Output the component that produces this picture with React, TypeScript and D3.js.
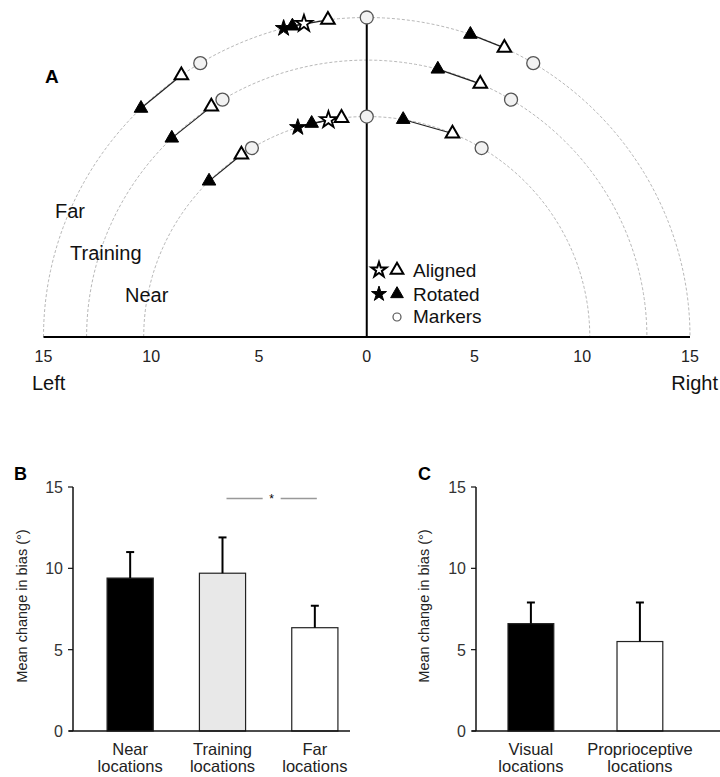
import { useEffect, useRef } from 'react';
import * as d3 from 'd3';

// ---- Panel A: pointing positions on three arcs (cm, angles in deg, left negative)
const arcNames = ['Near', 'Training', 'Far'];
const arcRadii = [10.35, 13, 15];
const axisTicks = [-15, -10, -5, 0, 5, 10, 15];

const targetArc = ['Near', 'Near', 'Near', 'Training', 'Training', 'Far', 'Far', 'Far'];
const markerAngle = [-31, 0, 31, -31, 31, -31, 0, 31];
const alignedTri = [-34.2, -6.5, 22.6, -33.7, 23.9, -35.0, -6.9, 25.2];
const rotatedTri = [-45.0, -14.3, 9.4, -44.1, 14.7, -44.3, -13.3, 18.7];

// stars only for the straight-ahead targets
const starArc = ['Near', 'Far'];
const alignedStar = [-9.9, -11.2];
const rotatedStar = [-18.0, -14.9];

// ---- Panel B
const bLabels = [['Near', 'locations'], ['Training', 'locations'], ['Far', 'locations']];
const bMeans = [9.4, 9.7, 6.35];
const bErrors = [1.6, 2.2, 1.35];
const bFills = ['#000000', '#e8e8e8', '#ffffff'];

// ---- Panel C
const cLabels = [['Visual', 'locations'], ['Proprioceptive', 'locations']];
const cMeans = [6.6, 5.5];
const cErrors = [1.3, 2.4];
const cFills = ['#000000', '#ffffff'];

const yTicks = [0, 5, 10, 15];
const FONT = '"Liberation Sans", Arial, sans-serif';

type Sel = d3.Selection<SVGGElement, unknown, null, undefined>;

function barPanel(
  g: Sel,
  opts: {
    labels: string[][];
    means: number[];
    errors: number[];
    fills: string[];
    letter: string;
    axisX: number;
    axisEnd: number;
    bandRange: [number, number];
    paddingInner: number;
    paddingOuter: number;
    letterX: number;
    titleX: number;
  }
) {
  const y = d3.scaleLinear().domain([0, 15]).range([731, 487]);
  const x = d3.scaleBand<number>()
    .domain(d3.range(opts.means.length))
    .range(opts.bandRange)
    .paddingInner(opts.paddingInner)
    .paddingOuter(opts.paddingOuter);

  // bars
  g.selectAll('rect.bar')
    .data(opts.means)
    .enter().append('rect')
    .attr('x', (_, i) => x(i)!)
    .attr('width', x.bandwidth())
    .attr('y', d => y(d))
    .attr('height', d => y(0) - y(d))
    .attr('fill', (_, i) => opts.fills[i])
    .attr('stroke', '#222')
    .attr('stroke-width', 1.2);

  // error bars (upper only)
  opts.means.forEach((m, i) => {
    const cx = x(i)! + x.bandwidth() / 2;
    g.append('line')
      .attr('x1', cx).attr('x2', cx)
      .attr('y1', y(m)).attr('y2', y(m + opts.errors[i]))
      .attr('stroke', '#000').attr('stroke-width', 2);
    g.append('line')
      .attr('x1', cx - 4).attr('x2', cx + 4)
      .attr('y1', y(m + opts.errors[i])).attr('y2', y(m + opts.errors[i]))
      .attr('stroke', '#000').attr('stroke-width', 2);
  });

  // axes
  g.append('line')
    .attr('x1', opts.axisX).attr('x2', opts.axisX)
    .attr('y1', y(15)).attr('y2', y(0))
    .attr('stroke', '#111').attr('stroke-width', 1.5);
  g.append('line')
    .attr('x1', opts.axisX - 4).attr('x2', opts.axisEnd)
    .attr('y1', y(0)).attr('y2', y(0))
    .attr('stroke', '#111').attr('stroke-width', 1.5);

  yTicks.forEach(t => {
    g.append('line')
      .attr('x1', opts.axisX - 5).attr('x2', opts.axisX)
      .attr('y1', y(t)).attr('y2', y(t))
      .attr('stroke', '#111').attr('stroke-width', 1.2);
    g.append('text')
      .attr('x', opts.axisX - 10).attr('y', y(t) + 6)
      .attr('text-anchor', 'end')
      .attr('font-size', 16)
      .attr('fill', '#333')
      .text(t);
  });

  // category labels
  opts.labels.forEach((lines, i) => {
    const cx = x(i)! + x.bandwidth() / 2;
    lines.forEach((ln, j) => {
      g.append('text')
        .attr('x', cx).attr('y', 755 + j * 17)
        .attr('text-anchor', 'middle')
        .attr('font-size', 16.5)
        .attr('fill', '#222')
        .text(ln);
    });
  });

  g.append('text')
    .attr('transform', `translate(${opts.titleX},606) rotate(-90)`)
    .attr('text-anchor', 'middle')
    .attr('font-size', 14.5)
    .attr('fill', '#222')
    .text('Mean change in bias (°)');

  g.append('text')
    .attr('x', opts.letterX).attr('y', 480)
    .attr('font-size', 18)
    .attr('font-weight', 'bold')
    .text(opts.letter);

  return { x, y };
}

export default function App() {
  const svgRef = useRef<SVGSVGElement>(null);

  useEffect(() => {
    if (!svgRef.current) return;
    const svg = d3.select(svgRef.current);
    svg.selectAll('*').remove();
    const root = svg.append('g').attr('font-family', FONT);

    // ---------------- Panel A
    const x = d3.scaleLinear().domain([-15, 15]).range([43.5, 690]);
    const y = d3.scaleLinear().domain([0, 15]).range([337, 337 - 15 * 21.3]);
    const radius = (name: string) => arcRadii[arcNames.indexOf(name)];
    const pos = (r: number, deg: number): [number, number] => {
      const a = (deg * Math.PI) / 180;
      return [x(r * Math.sin(a)), y(r * Math.cos(a))];
    };
    const a = root.append('g');

    const arcLine = d3.line<number>();
    arcRadii.forEach(r => {
      const pts = d3.range(-90, 90.5, 1).map(d => pos(r, d));
      a.append('path')
        .attr('d', arcLine(pts as any))
        .attr('fill', 'none')
        .attr('stroke', '#b8b8b8')
        .attr('stroke-width', 1)
        .attr('stroke-dasharray', '3,2');
    });

    // baseline + midline
    a.append('line')
      .attr('x1', x(-15)).attr('x2', x(15))
      .attr('y1', y(0)).attr('y2', y(0))
      .attr('stroke', '#000').attr('stroke-width', 2.2);
    a.append('line')
      .attr('x1', x(0)).attr('x2', x(0))
      .attr('y1', y(0)).attr('y2', y(15))
      .attr('stroke', '#000').attr('stroke-width', 2);

    axisTicks.forEach(t => {
      a.append('text')
        .attr('x', x(t)).attr('y', 362)
        .attr('text-anchor', 'middle')
        .attr('font-size', 16)
        .attr('fill', '#222')
        .text(Math.abs(t));
    });
    a.append('text').attr('x', 32).attr('y', 390).attr('font-size', 20).attr('fill', '#111').text('Left');
    a.append('text').attr('x', 718).attr('y', 390).attr('text-anchor', 'end').attr('font-size', 20).attr('fill', '#111').text('Right');

    a.append('text').attr('x', 45).attr('y', 83).attr('font-size', 19).attr('font-weight', 'bold').text('A');
    // arc names
    const arcLabelPos = [[125, 302], [70, 260], [55, 218]];
    arcNames.forEach((n, i) => {
      a.append('text')
        .attr('x', arcLabelPos[i][0]).attr('y', arcLabelPos[i][1])
        .attr('font-size', 20).attr('fill', '#111')
        .text(n);
    });

    const tri = d3.symbol().type(d3.symbolTriangle).size(80);
    const star = d3.symbol().type(d3.symbolStar).size(85);

    // connecting lines
    targetArc.forEach((arc, i) => {
      const r = radius(arc);
      const p0 = pos(r, rotatedTri[i]);
      const p1 = pos(r, alignedTri[i]);
      a.append('line')
        .attr('x1', p0[0]).attr('y1', p0[1]).attr('x2', p1[0]).attr('y2', p1[1])
        .attr('stroke', '#222').attr('stroke-width', 1.2);
    });
    starArc.forEach((arc, i) => {
      const r = radius(arc);
      const p0 = pos(r, rotatedStar[i]);
      const p1 = pos(r, alignedStar[i]);
      a.append('line')
        .attr('x1', p0[0]).attr('y1', p0[1]).attr('x2', p1[0]).attr('y2', p1[1])
        .attr('stroke', '#222').attr('stroke-width', 1.2);
    });

    // markers
    targetArc.forEach((arc, i) => {
      const p = pos(radius(arc), markerAngle[i]);
      a.append('circle')
        .attr('cx', p[0]).attr('cy', p[1]).attr('r', 6.5)
        .attr('fill', '#f2f2f2').attr('stroke', '#555').attr('stroke-width', 1.3);
    });

    // stars
    starArc.forEach((arc, i) => {
      const r = radius(arc);
      const pr = pos(r, rotatedStar[i]);
      a.append('path').attr('d', star()!)
        .attr('transform', `translate(${pr[0]},${pr[1]})`)
        .attr('fill', '#000').attr('stroke', '#000').attr('stroke-width', 1);
      const pa = pos(r, alignedStar[i]);
      a.append('path').attr('d', star()!)
        .attr('transform', `translate(${pa[0]},${pa[1]})`)
        .attr('fill', '#fff').attr('stroke', '#000').attr('stroke-width', 1.8);
    });

    // triangles
    targetArc.forEach((arc, i) => {
      const r = radius(arc);
      const pr = pos(r, rotatedTri[i]);
      a.append('path').attr('d', tri()!)
        .attr('transform', `translate(${pr[0]},${pr[1]})`)
        .attr('fill', '#000').attr('stroke', '#000').attr('stroke-width', 1);
      const pa = pos(r, alignedTri[i]);
      a.append('path').attr('d', tri()!)
        .attr('transform', `translate(${pa[0]},${pa[1]})`)
        .attr('fill', '#fff').attr('stroke', '#000').attr('stroke-width', 2);
    });

    // legend
    const legendStar = d3.symbol().type(d3.symbolStar).size(70);
    const legendTri = d3.symbol().type(d3.symbolTriangle).size(70);
    const legendRows = [
      { y: 270, label: 'Aligned', filled: false },
      { y: 294, label: 'Rotated', filled: true },
    ];
    legendRows.forEach(row => {
      a.append('path').attr('d', legendStar()!)
        .attr('transform', `translate(379,${row.y})`)
        .attr('fill', row.filled ? '#000' : '#fff').attr('stroke', '#000')
        .attr('stroke-width', row.filled ? 1 : 2);
      a.append('path').attr('d', legendTri()!)
        .attr('transform', `translate(397,${row.y})`)
        .attr('fill', row.filled ? '#000' : '#fff').attr('stroke', '#000')
        .attr('stroke-width', row.filled ? 1 : 2);
      a.append('text').attr('x', 413).attr('y', row.y + 7)
        .attr('font-size', 19).attr('fill', '#111').text(row.label);
    });
    a.append('circle').attr('cx', 397).attr('cy', 317).attr('r', 4)
      .attr('fill', '#fff').attr('stroke', '#555').attr('stroke-width', 1.2);
    a.append('text').attr('x', 413).attr('y', 323)
      .attr('font-size', 19).attr('fill', '#111').text('Markers');

    // ---------------- Panel B
    const b = root.append('g');
    const bp = barPanel(b, {
      labels: bLabels, means: bMeans, errors: bErrors, fills: bFills, letter: 'B',
      axisX: 73, axisEnd: 350, bandRange: [84, 361], paddingInner: 0.5, paddingOuter: 0.25,
      letterX: 14, titleX: 27,
    });
    // significance marker between Training and Far
    const sx1 = bp.x(1)! + bp.x.bandwidth() / 2 + 4;
    const sx2 = bp.x(2)! + bp.x.bandwidth() / 2 + 2;
    const sm = (sx1 + sx2) / 2;
    const sy = bp.y(14.3);
    b.append('line').attr('x1', sx1).attr('x2', sm - 9).attr('y1', sy).attr('y2', sy)
      .attr('stroke', '#999').attr('stroke-width', 1.5);
    b.append('line').attr('x1', sm + 9).attr('x2', sx2).attr('y1', sy).attr('y2', sy)
      .attr('stroke', '#999').attr('stroke-width', 1.5);
    b.append('text').attr('x', sm).attr('y', sy + 5).attr('text-anchor', 'middle')
      .attr('font-size', 12).text('*');

    // ---------------- Panel C
    const c = root.append('g');
    barPanel(c, {
      labels: cLabels, means: cMeans, errors: cErrors, fills: cFills, letter: 'C',
      axisX: 476, axisEnd: 720, bandRange: [453.5, 717.3], paddingInner: 0.58, paddingOuter: 0.5,
      letterX: 418, titleX: 429,
    });
  }, []);

  return (
    <div style={{ position: 'absolute', left: 0, top: 0 }}>
      <svg ref={svgRef} width={720} height={777} style={{ display: 'block', background: '#fff' }} />
    </div>
  );
}
